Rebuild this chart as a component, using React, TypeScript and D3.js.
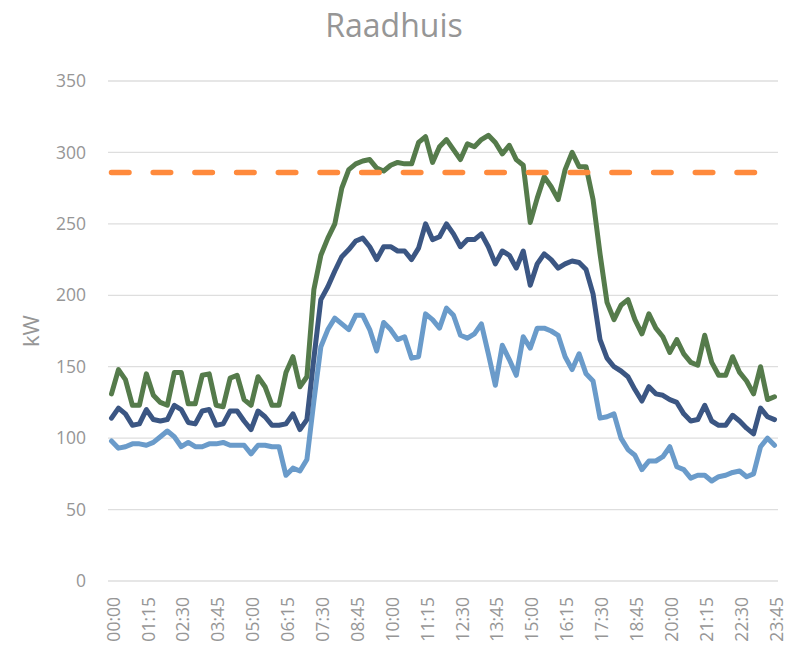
import React, { useEffect, useRef } from 'react';
import * as d3 from 'd3';

const times = [
  '00:00', '00:15', '00:30', '00:45', '01:00', '01:15', '01:30', '01:45', '02:00', '02:15',
  '02:30', '02:45', '03:00', '03:15', '03:30', '03:45', '04:00', '04:15', '04:30', '04:45',
  '05:00', '05:15', '05:30', '05:45', '06:00', '06:15', '06:30', '06:45', '07:00', '07:15',
  '07:30', '07:45', '08:00', '08:15', '08:30', '08:45', '09:00', '09:15', '09:30', '09:45',
  '10:00', '10:15', '10:30', '10:45', '11:00', '11:15', '11:30', '11:45', '12:00', '12:15',
  '12:30', '12:45', '13:00', '13:15', '13:30', '13:45', '14:00', '14:15', '14:30', '14:45',
  '15:00', '15:15', '15:30', '15:45', '16:00', '16:15', '16:30', '16:45', '17:00', '17:15',
  '17:30', '17:45', '18:00', '18:15', '18:30', '18:45', '19:00', '19:15', '19:30', '19:45',
  '20:00', '20:15', '20:30', '20:45', '21:00', '21:15', '21:30', '21:45', '22:00', '22:15',
  '22:30', '22:45', '23:00', '23:15', '23:30', '23:45',
];

// totaal (groen)
const greenValues = [
  131, 148, 141, 123, 123, 145, 130, 125, 123, 146,
  146, 124, 124, 144, 145, 123, 122, 142, 144, 127,
  123, 143, 136, 123, 123, 146, 157, 136, 143, 204,
  228, 240, 250, 275, 288, 292, 294, 295, 289, 287,
  291, 293, 292, 292, 307, 311, 293, 304, 309, 302,
  295, 306, 304, 309, 312, 307, 299, 305, 295, 291,
  251, 268, 283, 276, 267, 288, 300, 290, 290, 267,
  229, 195, 183, 193, 197, 183, 173, 187, 177, 171,
  160, 169, 159, 153, 151, 172, 153, 144, 144, 157,
  146, 140, 131, 150, 127, 129,
];

const darkBlueValues = [
  114, 121, 117, 109, 110, 120, 113, 112, 113, 123,
  120, 111, 110, 119, 120, 109, 110, 119, 119, 112,
  106, 119, 115, 109, 109, 110, 117, 106, 113, 156,
  197, 206, 217, 227, 232, 238, 240, 234, 225, 234,
  234, 231, 231, 225, 233, 250, 239, 241, 250, 243,
  234, 239, 239, 243, 234, 222, 231, 228, 219, 231,
  207, 222, 229, 225, 219, 222, 224, 223, 218, 201,
  169, 156, 150, 147, 143, 134, 126, 136, 131, 130,
  127, 125, 117, 112, 113, 123, 112, 109, 109, 116,
  112, 107, 103, 121, 115, 113,
];

const lightBlueValues = [
  98, 93, 94, 96, 96, 95, 97, 101, 105, 101,
  94, 97, 94, 94, 96, 96, 97, 95, 95, 95,
  89, 95, 95, 94, 94, 74, 79, 77, 85, 126,
  164, 176, 184, 180, 176, 186, 186, 176, 161, 181,
  176, 169, 171, 156, 157, 187, 183, 177, 191, 186,
  172, 170, 173, 180, 159, 137, 165, 155, 144, 171,
  163, 177, 177, 175, 172, 157, 148, 159, 145, 140,
  114, 115, 117, 100, 92, 88, 78, 84, 84, 87,
  94, 80, 78, 72, 74, 74, 70, 73, 74, 76,
  77, 73, 75, 94, 100, 95,
];

const limitValue = 286;
const yTicks = [0, 50, 100, 150, 200, 250, 300, 350];

const series = [
  { name: 'lightBlue', values: lightBlueValues, color: '#6A9BCA' },
  { name: 'darkBlue', values: darkBlueValues, color: '#3B5683' },
  { name: 'green', values: greenValues, color: '#557B4B' },
];

const W = 791;
const H = 653;
const left = 108;
const right = 778;
const top = 81;
const bottom = 581;
const grey = '#969696';
const font = '"Open Sans", sans-serif';

const App = () => {
  const svgRef = useRef(null);

  useEffect(() => {
    const svg = d3.select(svgRef.current);
    svg.selectAll('*').remove();

    const x = d3.scaleBand().domain(times).range([left, right]).padding(0);
    const cx = (t) => x(t) + x.bandwidth() / 2;
    const y = d3.scaleLinear().domain([0, 350]).range([bottom, top]);

    // gridlines + y labels
    svg.append('g')
      .selectAll('line')
      .data(yTicks)
      .join('line')
      .attr('x1', left)
      .attr('x2', right)
      .attr('y1', (d) => y(d))
      .attr('y2', (d) => y(d))
      .attr('stroke', '#dedede')
      .attr('stroke-width', 1.3);

    svg.append('g')
      .selectAll('text')
      .data(yTicks)
      .join('text')
      .attr('x', 86)
      .attr('y', (d) => y(d))
      .attr('dy', '0.35em')
      .attr('text-anchor', 'end')
      .attr('fill', grey)
      .style('font-family', font)
      .style('font-size', '17.5px')
      .text((d) => d);

    // x labels, every 5th point
    const xLabels = times.filter((t, i) => i % 5 === 0);
    svg.append('g')
      .selectAll('text')
      .data(xLabels)
      .join('text')
      .attr('transform', (d) => `translate(${cx(d) + 2},597) rotate(-90)`)
      .attr('dy', '0.35em')
      .attr('text-anchor', 'end')
      .attr('fill', grey)
      .style('font-family', font)
      .style('font-size', '17.5px')
      .text((d) => d);

    const line = d3.line()
      .x((d, i) => cx(times[i]))
      .y((d) => y(d));

    svg.append('g')
      .selectAll('path')
      .data(series)
      .join('path')
      .attr('d', (s) => line(s.values))
      .attr('fill', 'none')
      .attr('stroke', (s) => s.color)
      .attr('stroke-width', 5)
      .attr('stroke-linejoin', 'round')
      .attr('stroke-linecap', 'round');

    // grens
    svg.append('path')
      .attr('d', line(times.map(() => limitValue)))
      .attr('fill', 'none')
      .attr('stroke', '#FF8A3C')
      .attr('stroke-width', 5.5)
      .attr('stroke-linecap', 'round')
      .attr('stroke-dasharray', '17.5 24.2');

    svg.append('text')
      .attr('x', 394)
      .attr('y', 37)
      .attr('text-anchor', 'middle')
      .attr('fill', grey)
      .style('font-family', font)
      .style('font-size', '32px')
      .text('Raadhuis');

    svg.append('text')
      .attr('transform', `translate(31,${(top + bottom) / 2}) rotate(-90)`)
      .attr('text-anchor', 'middle')
      .attr('dy', '0.35em')
      .attr('fill', grey)
      .style('font-family', font)
      .style('font-size', '22px')
      .text('kW');
  }, []);

  return (
    <svg
      ref={svgRef}
      width={W}
      height={H}
      style={{ position: 'absolute', left: 0, top: 0, background: '#fff' }}
    />
  );
};

export default App;
